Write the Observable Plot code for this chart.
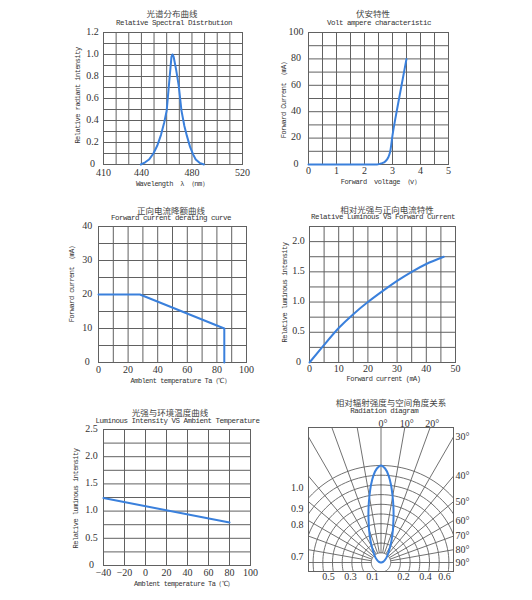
<!DOCTYPE html>
<html>
<head>
<meta charset="utf-8">
<script src="https://cdn.jsdelivr.net/npm/d3@7"></script>
<script src="https://cdn.jsdelivr.net/npm/@observablehq/plot@0.6"></script>
<style>
  html, body { margin: 0; padding: 0; background: #fff; }
  body { width: 532px; height: 600px; position: relative; overflow: hidden; }
  .ttl { position: absolute; transform: translate(-50%, -50%); white-space: nowrap; color: #333; line-height: 1; }
  .cn { font-family: "Noto Sans CJK SC"; font-size: 8.5px; color: #444; }
  .en { font-family: "Liberation Mono"; font-size: 7.5px; letter-spacing: -0.5px; }
  [font-family="Liberation Mono"] { letter-spacing: -0.5px; }
</style>
</head>
<body>
<script>
// ---------------- data ----------------
// 1. Relative spectral distribution
const specTitleCN = "光谱分布曲线";
const specTitleEN = "Relative Spectral Distrbution";
const specXLabel = "Wavelength  λ （nm）";
const specYLabel = "Relative radiant intensity";
const specWavelength = [439.5, 443, 446, 449.5, 452.5, 455.5, 458, 460, 462, 463.8, 464.6, 465.5, 467.5, 469.5, 471.7, 474, 476, 478.5, 481, 483, 486, 489.5];
const specIntensity  = [0, 0.02, 0.045, 0.1, 0.17, 0.27, 0.38, 0.49, 0.75, 0.98, 1.0, 0.98, 0.86, 0.72, 0.49, 0.35, 0.26, 0.16, 0.09, 0.045, 0.015, 0];
const specXTicks = [410, 440, 480, 520];
const specXGrid = [410, 420, 430, 440, 450, 460, 470, 480, 490, 500, 510, 520];
const specYTicks = [0, 0.2, 0.4, 0.6, 0.8, 1.0, 1.2];
const specYGrid = [0, 0.1, 0.2, 0.3, 0.4, 0.5, 0.6, 0.7, 0.8, 0.9, 1.0, 1.1, 1.2];

// 2. Volt-ampere characteristic
const vaTitleCN = "伏安特性";
const vaTitleEN = "Volt ampere characteristic";
const vaXLabel = "Forward  voltage （v）";
const vaYLabel = "Forward Current （mA）";
const vaVoltage = [0, 2.45, 2.6, 2.75, 2.85, 2.92, 3.0, 3.2, 3.5];
const vaCurrent = [0, 0, 0.8, 2.5, 5.5, 10, 22, 46, 80];
const vaXTicks = [0, 1, 2, 3, 4, 5];
const vaXGrid = [0, 0.5, 1, 1.5, 2, 2.5, 3, 3.5, 4, 4.5, 5];
const vaYTicks = [0, 20, 40, 60, 80, 100];
const vaYGrid = [0, 10, 20, 30, 40, 50, 60, 70, 80, 90, 100];

// 3. Forward current derating curve
const drTitleCN = "正向电流降额曲线";
const drTitleEN = "Forward current derating curve";
const drXLabel = "Amblent temperature Ta（℃）";
const drYLabel = "Forward current （mA）";
const drTemp = [0, 28, 85, 85];
const drCurrent = [20, 20, 10, 0];
const drXTicks = [0, 20, 40, 60, 80, 100];
const drXGrid = [0, 10, 20, 30, 40, 50, 60, 70, 80, 90, 100];
const drYTicks = [0, 10, 20, 30, 40];
const drYGrid = [0, 5, 10, 15, 20, 25, 30, 35, 40];

// 4. Relative luminous vs forward current
const lcTitleCN = "相对光强与正向电流特性";
const lcTitleEN = "Relative Luminous VS Forward Current";
const lcXLabel = "Forward current (mA)";
const lcYLabel = "Relative luminous intensity";
const lcCurrent = [0, 5, 10, 15, 20, 25, 30, 35, 40, 46];
const lcIntensity = [0, 0.29, 0.57, 0.8, 1.0, 1.18, 1.35, 1.5, 1.63, 1.75];
const lcXTicks = [0, 10, 20, 30, 40, 50];
const lcXGrid = [0, 5, 10, 15, 20, 25, 30, 35, 40, 45, 50];
const lcYTicks = [0, 0.5, 1.0, 1.5, 2.0];
const lcYGrid = [0, 0.25, 0.5, 0.75, 1.0, 1.25, 1.5, 1.75, 2.0, 2.25];

// 5. Luminous intensity vs ambient temperature
const ltTitleCN = "光强与环境温度曲线";
const ltTitleEN = "Luminous Intensity VS Ambient Temperature";
const ltXLabel = "Amblent temperature Ta（℃）";
const ltYLabel = "Relative luminous intensity";
const ltTemp = [-40, 80];
const ltIntensity = [1.24, 0.79];
const ltXTicks = [-40, -20, 0, 20, 40, 60, 80, 100];
const ltXGrid = [-40, -20, 0, 20, 40, 60, 80, 100];
const ltYTicks = [0, 0.5, 1.0, 1.5, 2.0, 2.5];
const ltYGrid = [0, 0.25, 0.5, 0.75, 1.0, 1.25, 1.5, 1.75, 2.0, 2.25, 2.5];

// 6. Radiation diagram
const radTitleCN = "相对辐射强度与空间角度关系";
const radTitleEN = "Radiation diagram";
const radPatternAngle = [-90, -80, -70, -60, -50, -40, -30, -25, -20, -17.5, -15, -12.5, -10, -7.5, -5, -2.5, 0, 2.5, 5, 7.5, 10, 12.5, 15, 17.5, 20, 25, 30, 40, 50, 60, 70, 80, 90];
const radPatternValue = [0, 0.012, 0.026, 0.043, 0.07, 0.11, 0.19, 0.26, 0.36, 0.42, 0.5, 0.59, 0.69, 0.8, 0.9, 0.97, 1.0, 0.97, 0.9, 0.8, 0.69, 0.59, 0.5, 0.42, 0.36, 0.26, 0.19, 0.11, 0.07, 0.043, 0.026, 0.012, 0];
const radArcRadii = [0.1, 0.2, 0.3, 0.4, 0.5, 0.6, 0.7, 0.8, 0.9, 1.0];
const radSpokeAngles = [-90, -80, -70, -60, -50, -40, -30, -20, -10, 0, 10, 20, 30, 40, 50, 60, 70, 80, 90];
const radAngleLabels = [0, 10, 20, 30, 40, 50, 60, 70, 80, 90];
const radLeftLabels = ["1.0", "0.9", "0.8", "0.7"];
const radLeftTickPos = [0.773, 0.557, 0.392, 0.062];
const radBottomLabels = ["0.5", "0.3", "0.1", "0.2", "0.4", "0.6"];
const radBottomTickPos = [-0.541, -0.314, -0.088, 0.232, 0.459, 0.655];

// ---------------- styling / layout ----------------
const GRID = "#616161";
const BLUE = "#3a80dc";
const TICK_FONT = "Liberation Serif";
const LABEL_FONT = "Liberation Mono";

function title(text, cls, cx, cy) {
  const d = document.createElement("div");
  d.className = "ttl " + cls;
  d.textContent = text;
  d.style.left = cx + "px";
  d.style.top = cy + "px";
  document.body.appendChild(d);
}

function place(L, xDomain, yDomain, marks) {
  const svg = Plot.plot({
    width: (L.x1 - L.x0) + L.ml + L.mr,
    height: (L.y1 - L.y0) + L.mt + L.mb,
    marginLeft: L.ml, marginRight: L.mr, marginTop: L.mt, marginBottom: L.mb,
    x: {domain: xDomain, axis: null},
    y: {domain: yDomain, axis: null},
    style: {fontFamily: TICK_FONT, fontSize: "10px", color: "#333", background: "transparent", overflow: "visible"},
    marks
  });
  svg.style.position = "absolute";
  svg.style.left = (L.x0 - L.ml) + "px";
  svg.style.top = (L.y0 - L.mt) + "px";
  svg.style.maxWidth = "none";
  document.body.appendChild(svg);
}

const fmt1 = d => d === 0 ? "0" : d.toFixed(1);

function cartesian(L, s) {
  place(L, s.xDomain, s.yDomain, [
    Plot.gridX(s.xGrid, {stroke: GRID, strokeOpacity: 1, strokeWidth: 1}),
    Plot.gridY(s.yGrid, {stroke: GRID, strokeOpacity: 1, strokeWidth: 1}),
    Plot.frame({stroke: GRID, strokeWidth: 1}),
    Plot.axisX(s.xTicks, {tickSize: 0, tickPadding: L.xPad, label: null}),
    Plot.axisY(s.yTicks, {tickSize: 0, tickPadding: L.yPad, label: null, tickFormat: s.yFormat, textAnchor: "middle", dy: -1}),
    Plot.line(s.ys, {x: s.xs, y: s.ys, stroke: BLUE, strokeWidth: 2, curve: s.curve || "linear"}),
    Plot.text([s.xLabel], {text: d => d, frameAnchor: "bottom", lineAnchor: "middle", textAnchor: "middle", dy: L.xlDy, dx: L.xlDx, fontFamily: LABEL_FONT, fontSize: 7, fill: "#333"}),
    Plot.text([s.yLabel], {text: d => d, frameAnchor: "left", lineAnchor: "middle", textAnchor: "middle", dx: L.ylDx, dy: L.ylDy, rotate: -90, fontFamily: LABEL_FONT, fontSize: 7, fill: "#333"})
  ]);
}

// Panel 1
title(specTitleCN, "cn", 172, 13);
title(specTitleEN, "en", 174, 24);
cartesian({x0: 103, y0: 32, x1: 242, y1: 164, ml: 45, mr: 12, mt: 6, mb: 30, xPad: 4.6, yPad: 11, xlDy: 19, xlDx: -1, ylDx: -26, ylDy: -3},
  {xDomain: [410, 520], yDomain: [0, 1.2], xGrid: specXGrid, yGrid: specYGrid, xTicks: specXTicks, yTicks: specYTicks,
   yFormat: fmt1, xs: specWavelength, ys: specIntensity, xLabel: specXLabel, yLabel: specYLabel});

// Panel 2
title(vaTitleCN, "cn", 373, 13);
title(vaTitleEN, "en", 379, 24);
cartesian({x0: 308, y0: 32, x1: 448, y1: 164, ml: 45, mr: 12, mt: 6, mb: 30, xPad: 2.4, yPad: 12.5, xlDy: 17, xlDx: 2, ylDx: -25, ylDy: 0},
  {xDomain: [0, 5], yDomain: [0, 100], xGrid: vaXGrid, yGrid: vaYGrid, xTicks: vaXTicks, yTicks: vaYTicks,
   yFormat: d => String(d), xs: vaVoltage, ys: vaCurrent, xLabel: vaXLabel, yLabel: vaYLabel, curve: "monotone-x"});

// Panel 3
title(drTitleCN, "cn", 171, 210);
title(drTitleEN, "en", 171, 219);
cartesian({x0: 98, y0: 226, x1: 246, y1: 362, ml: 45, mr: 12, mt: 6, mb: 30, xPad: 3.2, yPad: 11.3, xlDy: 18, xlDx: 8, ylDx: -26.5, ylDy: -12},
  {xDomain: [0, 100], yDomain: [0, 40], xGrid: drXGrid, yGrid: drYGrid, xTicks: drXTicks, yTicks: drYTicks,
   yFormat: d => String(d), xs: drTemp, ys: drCurrent, xLabel: drXLabel, yLabel: drYLabel});

// Panel 4
title(lcTitleCN, "cn", 387, 208.5);
title(lcTitleEN, "en", 383, 218);
cartesian({x0: 309, y0: 226, x1: 455, y1: 362, ml: 45, mr: 12, mt: 6, mb: 30, xPad: 2.5, yPad: 11, xlDy: 16, xlDx: 1, ylDx: -25, ylDy: -2},
  {xDomain: [0, 50], yDomain: [0, 2.25], xGrid: lcXGrid, yGrid: lcYGrid, xTicks: lcXTicks, yTicks: lcYTicks,
   yFormat: fmt1, xs: lcCurrent, ys: lcIntensity, xLabel: lcXLabel, yLabel: lcYLabel, curve: "natural"});

// Panel 5
title(ltTitleCN, "cn", 170, 411.5);
title(ltTitleEN, "en", 177.5, 422.3);
cartesian({x0: 103, y0: 429, x1: 250, y1: 565, ml: 45, mr: 14, mt: 6, mb: 30, xPad: 2.9, yPad: 12, xlDy: 18, xlDx: 7, ylDx: -28, ylDy: 1},
  {xDomain: [-40, 100], yDomain: [0, 2.5], xGrid: ltXGrid, yGrid: ltYGrid, xTicks: ltXTicks, yTicks: ltYTicks,
   yFormat: fmt1, xs: ltTemp, ys: ltIntensity, xLabel: ltXLabel, yLabel: ltYLabel});

// Panel 6: radiation diagram (polar, 97 px per unit intensity)
title(radTitleCN, "cn", 391, 401.7);
title(radTitleEN, "en", 384.3, 411.7);
{
  const L = {x0: 308, y0: 427, x1: 453, y1: 571, ml: 25, mr: 30, mt: 14, mb: 16};
  const unit = 97, cx = 380.5, cy = 562;
  const xMin = (L.x0 - cx) / unit, xMax = (L.x1 - cx) / unit;
  const yMin = (cy - L.y1) / unit, yMax = (cy - L.y0) / unit;
  const rad = a => a * Math.PI / 180;
  const arcPts = radArcRadii.flatMap(r => d3.range(0, 361, 3).map(a => ({r, x: r * Math.sin(rad(a)), y: r * Math.cos(rad(a))})));
  const hitsTop = a => {
    const s = Math.sin(rad(a)), c = Math.cos(rad(a));
    const tTop = c > 1e-9 ? yMax / c : Infinity;
    const tRight = s > 1e-9 ? xMax / s : Infinity;
    return tTop <= tRight;
  };
  const topA = radAngleLabels.filter(hitsTop);
  const rightA = radAngleLabels.filter(a => !hitsTop(a));
  place(L, [xMin, xMax], [yMin, yMax], [
    Plot.line(arcPts, {x: "x", y: "y", z: "r", stroke: GRID, strokeWidth: 0.9, clip: true}),
    Plot.link(radSpokeAngles, {
      x1: a => 0.1 * Math.sin(rad(a)), y1: a => 0.1 * Math.cos(rad(a)),
      x2: a => 3 * Math.sin(rad(a)), y2: a => 3 * Math.cos(rad(a)),
      stroke: GRID, strokeWidth: 0.9, clip: true
    }),
    Plot.frame({stroke: GRID, strokeWidth: 1}),
    Plot.line(radPatternAngle, {
      x: (a, i) => radPatternValue[i] * Math.sin(rad(a)),
      y: (a, i) => radPatternValue[i] * Math.cos(rad(a)),
      stroke: BLUE, strokeWidth: 2, curve: "catmull-rom"
    }),
    Plot.text(topA, {x: a => yMax * Math.tan(rad(a)), y: yMax, text: a => a + "°", lineAnchor: "bottom", textAnchor: "middle", dy: -1, dx: 2}),
    Plot.text(rightA, {x: xMax, y: a => xMax * Math.cos(rad(a)) / Math.sin(rad(a)), text: a => a + "°", textAnchor: "start", lineAnchor: "middle", dx: 2}),
    Plot.text(radLeftLabels, {y: radLeftTickPos, text: radLeftLabels, frameAnchor: "left", textAnchor: "end", lineAnchor: "middle", dx: -5}),
    Plot.text(radBottomLabels, {x: radBottomTickPos, text: radBottomLabels, frameAnchor: "bottom", lineAnchor: "middle", textAnchor: "middle", dy: 5.5})
  ]);
}
</script>
</body>
</html>
